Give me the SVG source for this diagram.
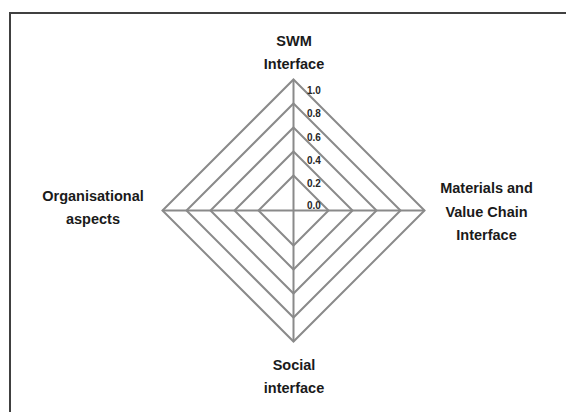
<svg xmlns="http://www.w3.org/2000/svg" width="566" height="412" viewBox="0 0 566 412">
<style>
.ring{fill:none;stroke:#8a8a8a;stroke-width:2;stroke-linejoin:miter}
.axis{stroke:#8a8a8a;stroke-width:2}
.lbl{font-family:"Liberation Sans",Arial,sans-serif;font-weight:bold;font-size:14.5px;fill:#1a1a1a;text-anchor:middle}
.tick{font-family:"Liberation Sans",Arial,sans-serif;font-weight:bold;font-size:10px;fill:#262626}
</style>
<rect x="0" y="0" width="566" height="412" fill="#fff"/>
<rect x="10" y="13" width="600" height="450" fill="none" stroke="#404040" stroke-width="2"/>
<g id="grid">
<polygon class="ring" points="293.5,79.5 424.5,210.5 293.5,341.5 162.5,210.5"/>
<polygon class="ring" points="293.5,103.5 400.5,210.5 293.5,317.5 186.5,210.5"/>
<polygon class="ring" points="293.5,127.5 376.5,210.5 293.5,293.5 210.5,210.5"/>
<polygon class="ring" points="293.5,151.5 352.5,210.5 293.5,269.5 234.5,210.5"/>
<polygon class="ring" points="293.5,175.5 328.5,210.5 293.5,245.5 258.5,210.5"/>
</g>
<g id="connectors">
<line class="axis" x1="293.5" y1="79.5" x2="293.5" y2="341.5"/>
<line class="axis" x1="162.5" y1="210.5" x2="424.5" y2="210.5"/>
</g>
<g id="ticks">
<text class="tick" x="307" y="94">1.0</text>
<text class="tick" x="307" y="117">0.8</text>
<text class="tick" x="307" y="140.5">0.6</text>
<text class="tick" x="307" y="164">0.4</text>
<text class="tick" x="307" y="187">0.2</text>
<text class="tick" x="307" y="209">0.0</text>
</g>
<g id="swm"><text class="lbl" x="294" y="46">SWM</text><text class="lbl" x="294" y="69">Interface</text></g>
<g id="materials"><text class="lbl" x="486.5" y="193">Materials and</text><text class="lbl" x="486.5" y="216.5">Value Chain</text><text class="lbl" x="486.5" y="240">Interface</text></g>
<g id="social"><text class="lbl" x="294" y="370">Social</text><text class="lbl" x="294" y="393">interface</text></g>
<g id="organisational"><text class="lbl" x="93" y="201">Organisational</text><text class="lbl" x="93" y="224">aspects</text></g>
</svg>
